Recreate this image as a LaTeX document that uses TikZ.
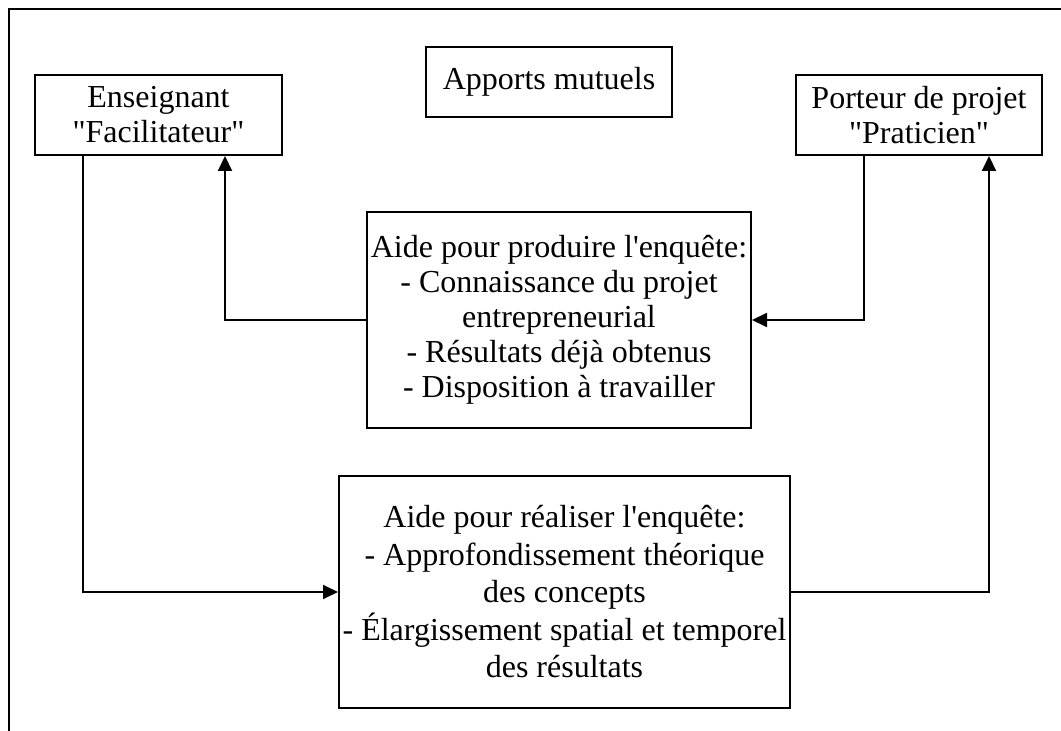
\documentclass[tikz,border=0pt]{standalone}
\usepackage{fontspec}
\setmainfont{Liberation Serif}[Ligatures=TeXOff]
\usetikzlibrary{arrows.meta}

\begin{document}
\begin{tikzpicture}[x=0.5pt, y=-0.5pt,
        box/.style={draw, line width=1pt, align=center, inner sep=0pt,
            font=\fontsize{16}{17.5}\selectfont},
        widebox/.style={box, font=\fontsize{16}{18.75}\selectfont},
        link/.style={line width=1pt, -{Triangle[length=7.5pt, width=7pt]}},
        frame/.style={line width=1pt}
    ]
    \useasboundingbox (0,0) rectangle (1061,731);

    % frame (open on the right and at the bottom)
    \draw[frame] (9,731) -- (9,9) -- (1061,9);

    % boxes
    \node[box, minimum width=123.5pt, minimum height=40pt] (ens) at (158.5,115) {Enseignant\\"Facilitateur"};
    \node[box, minimum width=123pt, minimum height=40pt] (port) at (919,115) {Porteur de projet\\"Praticien"};
    \node[box, minimum width=123pt, minimum height=35pt] (apports) at (549,82) {Apports mutuels};
    \node[box, minimum width=192pt, minimum height=108pt] (mid) at (559,320)
        {Aide pour produire l'enquête:\\- Connaissance du projet\\entrepreneurial\\- Résultats déjà obtenus\\- Disposition à travailler};
    \node[widebox, minimum width=225.5pt, minimum height=116pt] (bot) at (564.5,592)
        {Aide pour réaliser l'enquête:\\- Approfondissement théorique\\des concepts\\- Élargissement spatial et temporel\\des résultats};

    % columns for the connectors
    \coordinate (c1) at (83,0);
    \coordinate (c2) at (225,0);
    \coordinate (c3) at (864,0);
    \coordinate (c4) at (989,0);

    % connectors
    \draw[link] (mid.west) -| (ens.south -| c2);
    \draw[link] (port.south -| c3) |- (mid.east);
    \draw[link] (ens.south -| c1) |- (bot.west);
    \draw[link] (bot.east) -| (port.south -| c4);
\end{tikzpicture}
\end{document}
